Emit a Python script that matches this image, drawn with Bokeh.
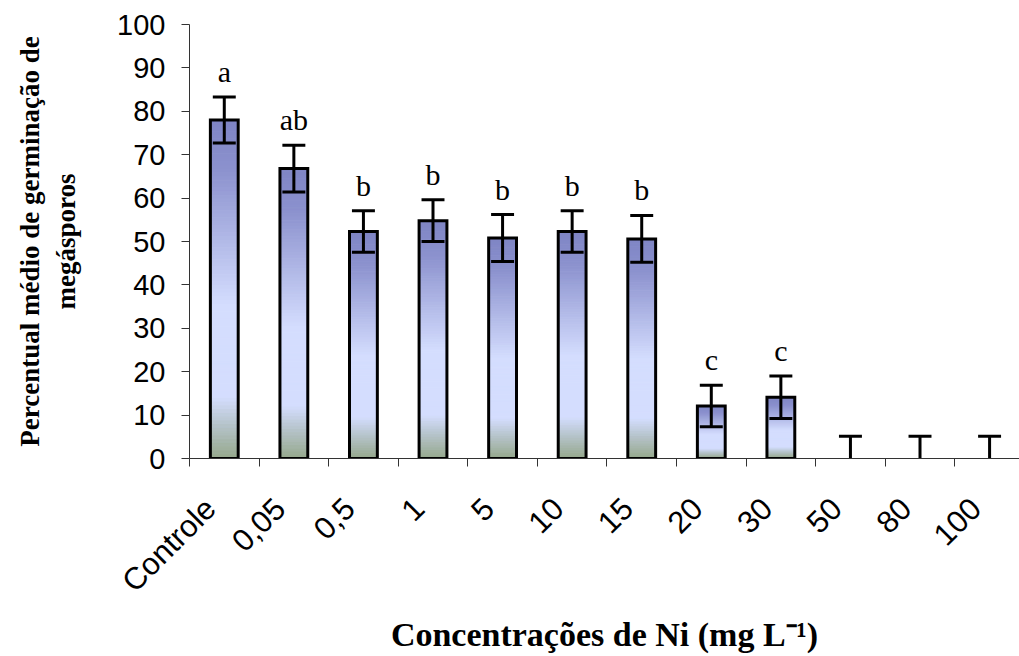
import numpy as np
from math import pi
from bokeh.plotting import figure
from bokeh.models import FixedTicker, Range1d, ColumnDataSource
from bokeh.embed import file_html
from bokeh.resources import INLINE
from bokeh.core.properties import value

# ---- data ----
categories = ["Controle", "0,05", "0,5", "1", "5", "10", "15", "20", "30", "50", "80", "100"]
means = [78.0, 66.8, 52.3, 54.8, 50.8, 52.3, 50.6, 12.1, 14.1, 0.0, 0.0, 0.0]
errors = [5.3, 5.4, 4.8, 4.8, 5.4, 4.8, 5.4, 4.8, 4.9, 5.1, 5.1, 5.1]
letters = ["a", "ab", "b", "b", "b", "b", "b", "c", "c", "", "", ""]
y_ticks = [0, 10, 20, 30, 40, 50, 60, 70, 80, 90, 100]

# ---- style ----
BAR_W = 0.40
CAP_W = 0.33
LABEL_SHIFT = 0.2
N_SLICES = 90
stops = [(0.00, (126, 132, 196)),
         (0.15, (140, 146, 206)),
         (0.55, (212, 221, 254)),
         (0.82, (212, 221, 254)),
         (0.90, (182, 196, 204)),
         (1.00, (150, 168, 140))]


def grad_color(f):
    for (f0, c0), (f1, c1) in zip(stops[:-1], stops[1:]):
        if f0 <= f <= f1:
            t = (f - f0) / (f1 - f0) if f1 > f0 else 0
            c = [int(round(a + (b - a) * t)) for a, b in zip(c0, c1)]
            return "#%02x%02x%02x" % tuple(c)
    return "#%02x%02x%02x" % stops[-1][1]


xs = [i + 0.5 for i in range(len(categories))]

p = figure(width=1019, height=656, output_backend="svg", toolbar_location=None,
           x_range=Range1d(0, 11.93), y_range=Range1d(0, 100),
           min_border_left=189, min_border_right=0, min_border_top=24,
           min_border_bottom=198)
p.outline_line_color = None
p.xgrid.visible = False
p.ygrid.visible = False
p.background_fill_color = "white"
p.border_fill_color = "white"

# gradient-filled bars built from slices of each bar's own value
left, right, bottom, top, colors = [], [], [], [], []
for x, m in zip(xs, means):
    if m <= 0:
        continue
    for k in range(N_SLICES):
        f_top = k / N_SLICES
        f_bot = (k + 1) / N_SLICES
        left.append(x - BAR_W / 2)
        right.append(x + BAR_W / 2)
        top.append(m * (1 - f_top))
        bottom.append(m * (1 - f_bot))
        colors.append(grad_color((k + 0.5) / N_SLICES))
p.quad(left=left, right=right, bottom=bottom, top=top, fill_color=colors,
       line_color=colors, line_width=1)

bx = [x for x, m in zip(xs, means) if m > 0]
bm = [m for m in means if m > 0]
p.quad(left=[x - BAR_W / 2 for x in bx], right=[x + BAR_W / 2 for x in bx],
       bottom=[0] * len(bx), top=bm, fill_color=None, line_color="black",
       line_width=3, line_join="miter")

# error bars
up = [m + e for m, e in zip(means, errors)]
lo = [max(m - e, 0) for m, e in zip(means, errors)]
p.segment(x0=xs, y0=lo, x1=xs, y1=up, line_color="black", line_width=3)
p.segment(x0=[x - CAP_W / 2 for x in xs], y0=up, x1=[x + CAP_W / 2 for x in xs], y1=up,
          line_color="black", line_width=3)
lx = [x for x, m in zip(xs, means) if m > 0]
ly = [l for l, m in zip(lo, means) if m > 0]
p.segment(x0=[x - CAP_W / 2 for x in lx], y0=ly, x1=[x + CAP_W / 2 for x in lx], y1=ly,
          line_color="black", line_width=3)

# significance letters
src = ColumnDataSource(dict(x=xs, y=up, t=letters))
p.text(x="x", y="y", text="t", source=src, text_font=value("Liberation Serif"),
       text_font_size="30px", text_align="center", text_baseline="bottom",
       y_offset=-9, text_color="black")

# x axis: minor ticks on category boundaries, labels near category centres
label_pos = [x - LABEL_SHIFT for x in xs]
xa = p.xaxis[0]
xa.ticker = FixedTicker(ticks=label_pos, minor_ticks=list(range(len(categories) + 1)))
xa.major_label_overrides = {x: c for x, c in zip(label_pos, categories)}
xa.major_label_orientation = pi / 4
xa.major_tick_out = 0
xa.major_tick_in = 0
xa.minor_tick_out = 8
xa.minor_tick_in = 0
xa.minor_tick_line_color = "#333333"
xa.axis_line_color = "#333333"
xa.major_label_text_font = "Liberation Sans"
xa.major_label_text_font_size = "31px"
xa.major_label_text_color = "black"
xa.major_label_standoff = 37
xa.axis_label = "Concentrações de Ni (mg L⁻¹)"
xa.axis_label_text_font = "Liberation Serif"
xa.axis_label_text_font_style = "bold"
xa.axis_label_text_font_size = "34px"
xa.axis_label_text_color = "black"
xa.axis_label_standoff = 2

ya = p.yaxis[0]
ya.ticker = FixedTicker(ticks=y_ticks, minor_ticks=[])
ya.major_tick_out = 8
ya.major_tick_in = 0
ya.major_tick_line_color = "#333333"
ya.axis_line_color = "#333333"
ya.major_label_text_font = "Liberation Sans"
ya.major_label_text_font_size = "29px"
ya.major_label_text_color = "black"
ya.major_label_standoff = 16
ya.axis_label = "Percentual médio de germinação de\nmegásporos"
ya.axis_label_text_font = "Liberation Serif"
ya.axis_label_text_font_style = "bold"
ya.axis_label_text_font_size = "27px"
ya.axis_label_text_color = "black"
ya.axis_label_text_line_height = 1.2
ya.axis_label_standoff = 33

open("out.html", "w").write(file_html(p, INLINE))
